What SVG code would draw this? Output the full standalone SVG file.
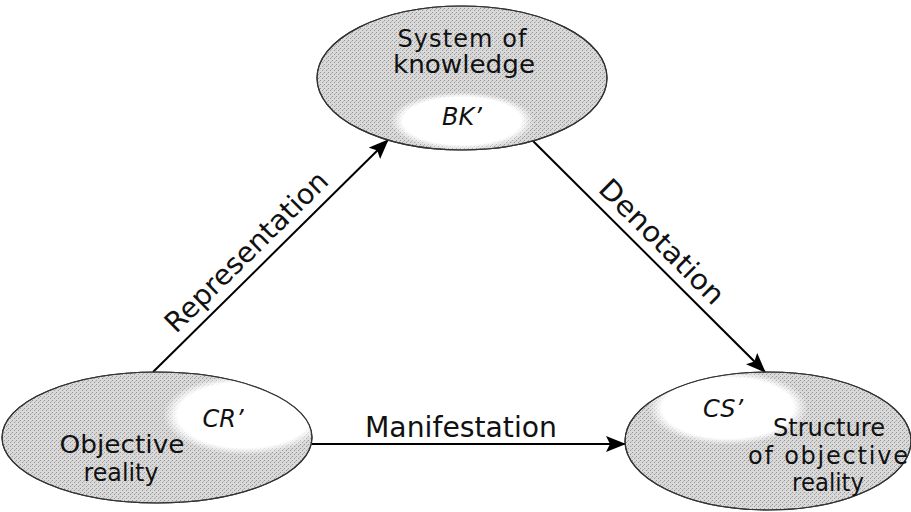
<svg xmlns="http://www.w3.org/2000/svg" width="911" height="512" viewBox="0 0 911 512">
<style>
.outer{fill:url(#dots);stroke:#333;stroke-width:1.2}
.blob{fill:url(#whiteFade)}
.lbl{font-family:"DejaVu Sans","Liberation Sans",sans-serif;font-size:24px;fill:#111;text-anchor:middle}
.it{font-family:"DejaVu Sans","Liberation Sans",sans-serif;font-size:24px;font-style:italic;fill:#111;text-anchor:middle}
.edge{stroke:#000;stroke-width:2;fill:none;marker-end:url(#arr)}
.elbl{font-family:"DejaVu Sans","Liberation Sans",sans-serif;font-size:28px;fill:#111;text-anchor:middle}
</style>
<defs>
<pattern id="dots" width="4" height="4" patternUnits="userSpaceOnUse">
<rect width="4" height="4" fill="#d9d9d9"/>
<rect x="0" y="0" width="1" height="1" fill="#999"/>
<rect x="2" y="2" width="1" height="1" fill="#999"/>
<rect x="3" y="1" width="1" height="1" fill="#b8b8b8"/>
</pattern>
<radialGradient id="whiteFade">
<stop offset="0" stop-color="#fff" stop-opacity="1"/>
<stop offset="0.82" stop-color="#fff" stop-opacity="1"/>
<stop offset="1" stop-color="#fff" stop-opacity="0"/>
</radialGradient>
<clipPath id="cTop"><ellipse cx="462" cy="78" rx="145" ry="72"/></clipPath>
<clipPath id="cLeft"><ellipse cx="157" cy="437.5" rx="155" ry="65.5"/></clipPath>
<clipPath id="cRight"><ellipse cx="768" cy="441" rx="143" ry="69"/></clipPath>
<marker id="arr" viewBox="0 0 20 16" refX="19" refY="8" markerWidth="20" markerHeight="16" markerUnits="userSpaceOnUse" orient="auto">
<path d="M0,0 L20,8 L0,16 L4,8 Z" fill="#000"/>
</marker>
</defs>

<g id="connectors">
<line class="edge" x1="153" y1="372" x2="388" y2="140"/>
<line class="edge" x1="532" y1="140" x2="765" y2="372"/>
<line class="edge" x1="312" y1="444" x2="625" y2="444"/>
<text class="elbl" transform="translate(253,258.5) rotate(-44.5)" textLength="216" lengthAdjust="spacingAndGlyphs">Representation</text>
<text class="elbl" transform="translate(655,248.5) rotate(44.9)" textLength="164" lengthAdjust="spacingAndGlyphs">Denotation</text>
<text class="elbl" x="461" y="437" textLength="192" lengthAdjust="spacingAndGlyphs">Manifestation</text>
</g>

<g id="node-knowledge">
<ellipse class="outer" cx="462" cy="78" rx="145" ry="72"/>
<g clip-path="url(#cTop)"><ellipse class="blob" cx="462" cy="121" rx="72" ry="29"/></g>
<ellipse cx="462" cy="78" rx="145" ry="72" fill="none" stroke="#333" stroke-width="1.2"/>
<text class="lbl" x="462" y="47" textLength="129" lengthAdjust="spacing">System of</text>
<text class="lbl" x="464" y="73" textLength="142" lengthAdjust="spacingAndGlyphs">knowledge</text>
<text class="it" x="462" y="125">BK’</text>
</g>

<g id="node-objective">
<ellipse class="outer" cx="157" cy="437.5" rx="155" ry="65.5"/>
<g clip-path="url(#cLeft)"><ellipse class="blob" cx="245" cy="415" rx="82" ry="40"/></g>
<ellipse cx="157" cy="437.5" rx="155" ry="65.5" fill="none" stroke="#333" stroke-width="1.2"/>
<text class="it" x="223" y="427">CR’</text>
<text class="lbl" x="122" y="453" textLength="125" lengthAdjust="spacingAndGlyphs">Objective</text>
<text class="lbl" x="121" y="481" textLength="75" lengthAdjust="spacingAndGlyphs">reality</text>
</g>

<g id="node-structure">
<ellipse class="outer" cx="768" cy="441" rx="143" ry="69"/>
<g clip-path="url(#cRight)"><ellipse class="blob" cx="728" cy="408" rx="80" ry="37"/></g>
<ellipse cx="768" cy="441" rx="143" ry="69" fill="none" stroke="#333" stroke-width="1.2"/>
<text class="it" x="723" y="417">CS’</text>
<text class="lbl" x="829" y="436" textLength="112" lengthAdjust="spacingAndGlyphs">Structure</text>
<text class="lbl" x="828" y="464" textLength="160" lengthAdjust="spacing">of objective</text>
<text class="lbl" x="828" y="491" textLength="72" lengthAdjust="spacingAndGlyphs">reality</text>
</g>
</svg>
